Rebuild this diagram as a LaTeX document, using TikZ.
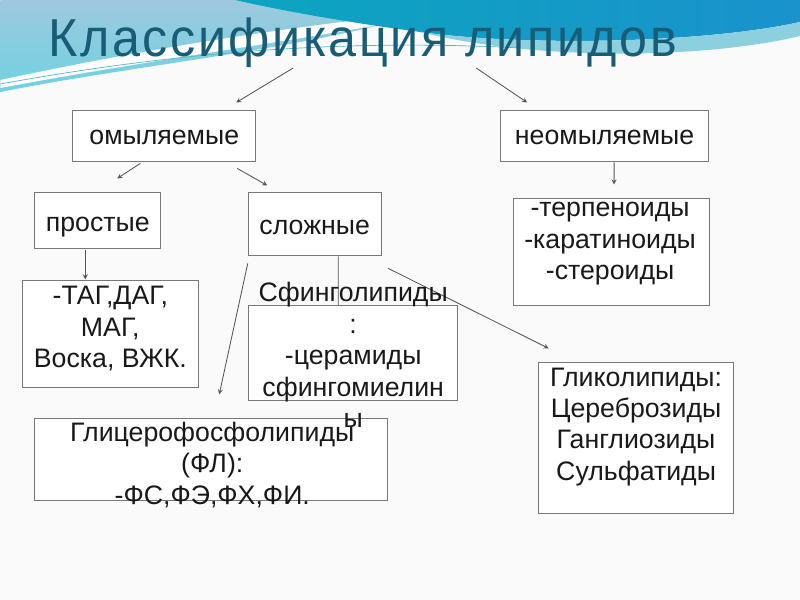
\documentclass[tikz,border=0pt]{standalone}
\usepackage{fontspec}
\setmainfont{Liberation Sans}
\newfontfamily\titlefont[FakeStretch=0.94, LetterSpace=4.8]{Liberation Sans}
\usepackage{xcolor}
\usetikzlibrary{arrows}

\definecolor{boxgray}{RGB}{120,120,120}
\definecolor{linegray}{RGB}{85,85,85}
\definecolor{titleteal}{RGB}{24,92,118}
\definecolor{skyblue}{RGB}{158,201,222}
\definecolor{skycyan}{RGB}{110,210,226}
\definecolor{deepteal}{RGB}{12,165,192}
\definecolor{deepblue}{RGB}{26,146,204}
\definecolor{paleband}{RGB}{140,208,224}

\tikzset{
  box/.style={draw=boxgray, fill=white, line width=0.7pt, inner sep=0pt},
  boxsize/.style 2 args={minimum width=#1*0.025cm, minimum height=#2*0.025cm},
  lbl/.style={font=\fontsize{19}{22.4}\selectfont, align=center, inner sep=0pt, text=black!90},
  conn/.style={draw=linegray, line width=0.6pt, ->, >=stealth},
}

\begin{document}
\begin{tikzpicture}[x=0.025cm,y=-0.025cm]
	% background
	\fill[white!98!black] (0,0) rectangle (800,600);
	\shade[top color=skyblue, bottom color=skycyan] (0,0) -- (460,0) .. controls (350,45) and (150,62) .. (0,92) -- cycle;
	\fill[white] (0,80) .. controls (150,48) and (300,24) .. (470,8) .. controls (320,38) and (160,58) .. (0,88) -- cycle;
	\shade[left color=deepteal, right color=deepblue] (235,0) -- (800,0) -- (800,22) .. controls (700,44) and (520,46) .. (420,32) .. controls (330,20) and (270,8) .. (235,0) -- cycle;
	\fill[paleband] (420,32) .. controls (520,46) and (700,44) .. (800,22) -- (800,36) .. controls (700,60) and (530,60) .. (420,32) -- cycle;
	\draw[skycyan!70!teal, line width=0.5pt] (0,84) .. controls (160,55) and (330,38) .. (520,48);

	\node[anchor=base west, inner sep=0pt, text=titleteal, font=\titlefont\fontsize{38}{43}\selectfont] (title) at (48,57) {Классификация липидов};

	% boxes
	\node[box, boxsize={183}{51}] (omyl) at (163.5,136.5) {};
	\node[box, boxsize={208}{51}] (neomyl) at (604.5,136.5) {};
	\node[box, boxsize={126}{56}] (prost) at (97,221) {};
	\node[box, boxsize={133}{63}] (slozh) at (314.5,224.5) {};
	\node[box, boxsize={176}{107}] (tag) at (110,334.5) {};
	\node[box, boxsize={196}{107}] (terp) at (611,252.5) {};
	\node[box, boxsize={209}{95}] (sfing) at (352.5,353.5) {};
	\node[box, boxsize={353}{82}] (glits) at (210.5,460) {};
	\node[box, boxsize={195}{151}] (glyko) at (635.5,438.5) {};

	% arrows
	\coordinate (tl) at (293,68);
	\coordinate (tr) at (476,68);
	\draw[conn] (tl) -- ([shift={(72.5,-8)}]omyl.north);
	\draw[conn] (tr) -- ([shift={(-77.5,-8)}]neomyl.north);
	\draw[conn] ([shift={(-23.5,1)}]omyl.south) -- ([shift={(20,-14)}]prost.north);
	\draw[conn] ([shift={(73.5,6)}]omyl.south) -- ([shift={(-47.5,-7)}]slozh.north);
	\draw[conn] ([shift={(-12,1)}]prost.south) -- ([shift={(-25,-1)}]tag.north);
	\draw[conn] ([shift={(0,7)}]slozh.south west) -- ([shift={(8.5,-24)}]glits.north);
	\draw[draw=linegray, line width=0.6pt] ([xshift=23.5*0.025cm]slozh.south) -- ([xshift=-14.5*0.025cm]sfing.north);
	\draw[conn] ([shift={(73.5,12)}]slozh.south) -- ([shift={(11,-14)}]glyko.north west);
	\draw[conn] ([xshift=9.5*0.025cm]neomyl.south) -- ([shift={(3,-14)}]terp.north);

	% texts
	\node[lbl, anchor=base] (omyltxt) at (164,145) {омыляемые};
	\node[lbl, anchor=base] (neomyltxt) at (604.5,145) {неомыляемые};
	\node[lbl, anchor=base] (prosttxt) at (97.5,232) {простые};
	\node[lbl, anchor=base] (slozhtxt) at (314.5,235) {сложные};
	\node[lbl] (tagtxt) at (110,329) {-ТАГ,ДАГ,\\МАГ,\\Воска, ВЖК.};
	\node[lbl] (terptxt) at (610,244) {-терпеноиды\\-каратиноиды\\-стероиды};
	\node[lbl] (sfingtxt) at (353,355) {Сфинголипиды\\:\\-церамиды\\сфингомиелин\\ы};
	\node[lbl] (glitstxt) at (212,465) {Глицерофосфолипиды\\(ФЛ):\\-ФС,ФЭ,ФХ,ФИ.};
	\node[lbl] (glykotxt) at (636,427) {Гликолипиды:\\Цереброзиды\\Ганглиозиды\\Сульфатиды};
\end{tikzpicture}
\end{document}
